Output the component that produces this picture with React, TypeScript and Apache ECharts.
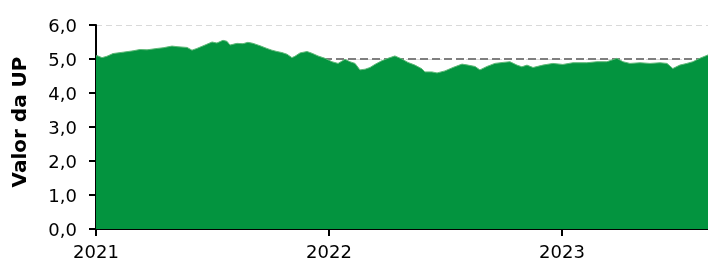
import React, { useEffect, useRef } from "react";
import * as echarts from "echarts";

// Decimal year of each reading
const years = [
  2021.0, 2021.004, 2021.026, 2021.047, 2021.073, 2021.116, 2021.159, 2021.189, 2021.219, 2021.262,
  2021.288, 2021.326, 2021.352, 2021.391, 2021.412, 2021.433, 2021.468, 2021.498, 2021.519, 2021.545,
  2021.562, 2021.575, 2021.605, 2021.631, 2021.652, 2021.674, 2021.704, 2021.734, 2021.755, 2021.777,
  2021.798, 2021.82, 2021.841, 2021.854, 2021.876, 2021.906, 2021.927, 2021.953, 2021.983, 2022.013,
  2022.039, 2022.069, 2022.09, 2022.112, 2022.133, 2022.155, 2022.176, 2022.197, 2022.227, 2022.253,
  2022.283, 2022.313, 2022.339, 2022.369, 2022.399, 2022.412, 2022.442, 2022.464, 2022.498, 2022.532,
  2022.571, 2022.597, 2022.627, 2022.648, 2022.678, 2022.712, 2022.747, 2022.777, 2022.807, 2022.828,
  2022.85, 2022.876, 2022.918, 2022.961, 2023.004, 2023.047, 2023.107, 2023.15, 2023.193, 2023.236,
  2023.262, 2023.292, 2023.335, 2023.378, 2023.421, 2023.451, 2023.476, 2023.506, 2023.536, 2023.562,
  2023.592, 2023.627,
];

// Valor da UP at each reading
const values = [
  5.08, 5.1, 5.04, 5.08, 5.16, 5.2, 5.24, 5.28, 5.27, 5.31,
  5.33, 5.38, 5.36, 5.34, 5.26, 5.31, 5.41, 5.5, 5.47, 5.55,
  5.52, 5.41, 5.46, 5.45, 5.49, 5.46, 5.39, 5.31, 5.26, 5.22,
  5.19, 5.14, 5.04, 5.08, 5.18, 5.22, 5.17, 5.09, 5.02, 4.92,
  4.87, 4.99, 4.92, 4.87, 4.68, 4.7, 4.75, 4.84, 4.95, 5.02,
  5.09, 5.0, 4.9, 4.82, 4.71, 4.62, 4.62, 4.59, 4.65, 4.75,
  4.85, 4.82, 4.78, 4.68, 4.78, 4.87, 4.9, 4.92, 4.82, 4.77,
  4.82, 4.75, 4.82, 4.87, 4.84, 4.89, 4.89, 4.92, 4.92, 5.02,
  4.92, 4.87, 4.89, 4.87, 4.89, 4.87, 4.72, 4.82, 4.87, 4.92,
  5.02, 5.12,
];

const referenceLevel = 5.0;
const yearTicks = [2021, 2022, 2023];
const xMin = 2021;
const xMax = 2023.627;

const GREEN = "#03943F";
const FONT = "DejaVu Sans";

export default function App() {
  const ref = useRef<HTMLDivElement>(null);

  useEffect(() => {
    if (!ref.current) return;
    const chart = echarts.init(ref.current, null, { renderer: "svg" });
    chart.setOption({
      animation: false,
      grid: { left: 96, right: 0, top: 25, bottom: 37, containLabel: false },
      xAxis: {
        type: "value",
        min: xMin,
        max: xMax,
        interval: 1,
        axisLine: { show: true, lineStyle: { color: "#000", width: 2 } },
        axisTick: { show: true, length: 7, lineStyle: { color: "#000", width: 2 }, customValues: yearTicks },
        axisLabel: {
          customValues: yearTicks,
          formatter: (v: number) => String(Math.round(v)),
          color: "#000",
          fontFamily: FONT,
          fontSize: 18,
          margin: 13,
        },
        splitLine: { show: false },
      },
      yAxis: {
        type: "value",
        min: 0,
        max: 6,
        interval: 1,
        axisLine: { show: true, lineStyle: { color: "#000", width: 2 } },
        axisTick: { show: true, length: 7, lineStyle: { color: "#000", width: 2 } },
        axisLabel: {
          formatter: (v: number) => v.toFixed(1).replace(".", ","),
          color: "#000",
          fontFamily: FONT,
          fontSize: 18,
          margin: 19,
        },
        splitLine: { show: true, lineStyle: { color: "#d9d9d9", type: [6, 4], width: 1 } },
      },
      graphic: [
        {
          type: "text",
          x: 19,
          y: 122,
          rotation: Math.PI / 2,
          style: {
            text: "Valor da UP",
            fontFamily: FONT,
            fontWeight: "bold",
            fontSize: 20,
            fill: "#000",
            align: "center",
            verticalAlign: "middle",
          },
        },
      ],
      series: [
        {
          type: "line",
          z: 1,
          data: [
            [xMin, referenceLevel],
            [xMax, referenceLevel],
          ],
          showSymbol: false,
          lineStyle: { color: "#7f7f7f", width: 2, type: [8, 4] },
          silent: true,
        },
        {
          type: "line",
          z: 3,
          data: years.map((y, i) => [y, values[i]]),
          showSymbol: false,
          lineStyle: { color: "#5fb878", width: 1 },
          areaStyle: { color: GREEN, opacity: 1 },
          silent: true,
        },
      ],
    });
    return () => chart.dispose();
  }, []);

  return (
    <div
      ref={ref}
      style={{ position: "fixed", left: 0, top: 0, width: 708, height: 266 }}
    />
  );
}
